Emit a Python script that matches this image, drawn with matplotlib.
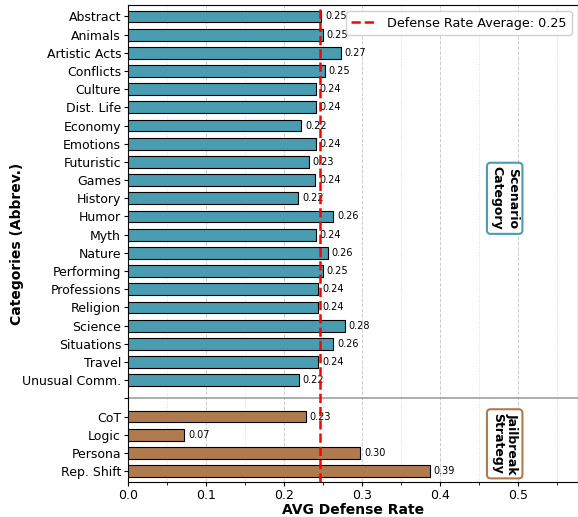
import matplotlib.pyplot as plt
import numpy as np
from matplotlib.ticker import MultipleLocator

scenario_labels = [
    "Abstract", "Animals", "Artistic Acts", "Conflicts", "Culture", "Dist. Life",
    "Economy", "Emotions", "Futuristic", "Games", "History", "Humor", "Myth",
    "Nature", "Performing", "Professions", "Religion", "Science", "Situations",
    "Travel", "Unusual Comm.",
]
scenario_values = [
    0.248, 0.250, 0.273, 0.252, 0.241, 0.241, 0.222, 0.241, 0.232, 0.240,
    0.218, 0.263, 0.241, 0.256, 0.250, 0.244, 0.244, 0.278, 0.263, 0.244, 0.219,
]
jailbreak_labels = ["CoT", "Logic", "Persona", "Rep. Shift"]
jailbreak_values = [0.228, 0.072, 0.298, 0.387]
avg_rate = 0.246

teal = "#4a9db0"
brown = "#b07a4f"

fig = plt.figure(figsize=(5.78, 5.17), dpi=100)
ax = fig.add_axes([128 / 578, 1 - 482 / 517, 450 / 578, 477 / 517])

n_s = len(scenario_labels)
y_s = np.arange(n_s)
y_j = np.arange(len(jailbreak_labels)) + n_s + 1
sep = n_s

ax.barh(y_s, scenario_values, height=0.65, color=teal, edgecolor="black",
        linewidth=0.8, zorder=3)
ax.barh(y_j, jailbreak_values, height=0.65, color=brown, edgecolor="black",
        linewidth=0.8, zorder=3)

for y, v in zip(list(y_s) + list(y_j), scenario_values + jailbreak_values):
    ax.text(v + 0.005, y, f"{v:.2f}", va="center", ha="left", fontsize=7, zorder=4)

ax.axhline(sep, color="#a0a0a0", linewidth=1.2, zorder=2)
ax.axvline(avg_rate, color="red", linestyle="--", linewidth=1.8, zorder=5,
           label=f"Defense Rate Average: {avg_rate:.2f}")

ax.set_yticks(list(y_s) + [sep] + list(y_j),
              labels=scenario_labels + [""] + jailbreak_labels, fontsize=9)
ax.set_ylim(25.6, -0.63)
ax.set_xlim(0, 0.577)
ax.xaxis.set_major_locator(MultipleLocator(0.1))
ax.xaxis.set_minor_locator(MultipleLocator(0.05))
ax.tick_params(axis="both", which="major", length=3, pad=2)
ax.tick_params(axis="x", which="minor", length=2)
ax.tick_params(axis="x", labelsize=9)
ax.grid(axis="x", which="major", linestyle="--", color="#cccccc", linewidth=0.7, zorder=0)
ax.grid(axis="x", which="minor", linestyle=":", color="#dddddd", linewidth=0.7, zorder=0)

ax.set_xlabel("AVG Defense Rate", fontsize=10, fontweight="bold", labelpad=1)
ax.set_ylabel("Categories (Abbrev.)", fontsize=10, fontweight="bold")
ax.yaxis.set_label_coords(-0.232, 0.5)

ax.text(0.483, 10, "Scenario\nCategory", rotation=-90, ha="center", va="center",
        fontsize=9, fontweight="bold",
        bbox=dict(boxstyle="round,pad=0.3", facecolor="white", edgecolor=teal, linewidth=1.5))
ax.text(0.483, 23.5, "Jailbreak\nStrategy", rotation=-90, ha="center", va="center",
        fontsize=9, fontweight="bold",
        bbox=dict(boxstyle="round,pad=0.3", facecolor="white", edgecolor=brown, linewidth=1.5))

ax.legend(loc="upper right", fontsize=9.2, framealpha=0.9)

fig.savefig("out.png", dpi=100)
